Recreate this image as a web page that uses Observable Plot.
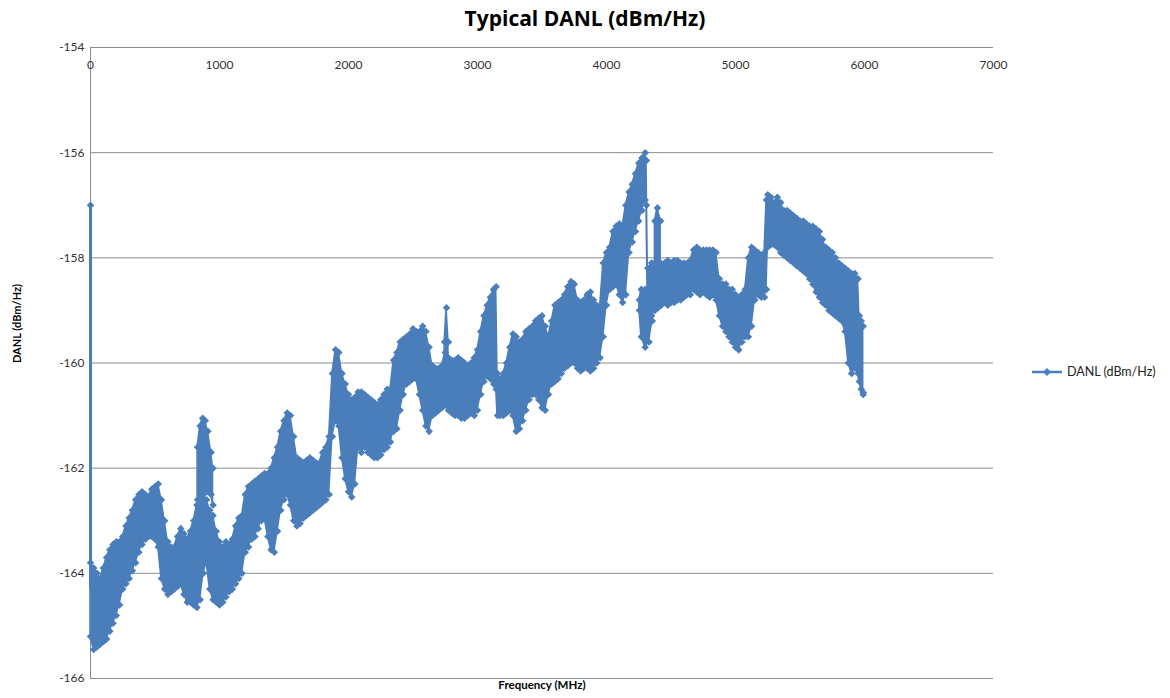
<!DOCTYPE html>
<html><head><meta charset="utf-8">
<script src="https://cdn.jsdelivr.net/npm/d3@7"></script>
<script src="https://cdn.jsdelivr.net/npm/@observablehq/plot@0.6"></script>
<style>
body{margin:0;background:#fff;font-family:Lato,"Open Sans",sans-serif;}
#wrap{position:relative;width:1170px;height:698px;overflow:hidden;}
#title{position:absolute;left:0;top:4px;width:1170px;text-align:center;font-family:"Open Sans",Lato,sans-serif;font-weight:bold;font-size:21px;color:#000;}
#chart{position:absolute;left:0;top:38px;}
#legend{position:absolute;left:1030px;top:364px;font-size:12.5px;color:#222;display:flex;align-items:center;white-space:nowrap;}
</style></head>
<body>
<div id="wrap">
  <div id="title">Typical DANL (dBm/Hz)</div>
  <div id="chart"></div>
  <div id="legend"><svg width="34" height="14"><line x1="2" y1="7" x2="32" y2="7" stroke="#4a7ebb" stroke-width="2.5"/><path d="M17 3 L21 7 L17 11 L13 7 Z" fill="#4a7ebb"/></svg><span style="margin-left:3px">DANL (dBm/Hz)</span></div>
</div>
<script>
// Frequency (MHz) and upper / lower edge of the dense DANL trace (dBm/Hz)
const freq = [
  0,25,50,75,100,125,150,175,
  200,225,250,275,300,325,350,375,
  400,425,450,475,500,525,550,575,
  600,625,650,675,700,725,750,775,
  800,825,850,875,900,925,950,975,
  1000,1025,1050,1075,1100,1125,1150,1175,
  1200,1225,1250,1275,1300,1325,1350,1375,
  1400,1425,1450,1475,1500,1525,1550,1575,
  1600,1625,1650,1675,1700,1725,1750,1775,
  1800,1825,1850,1875,1900,1925,1950,1975,
  2000,2025,2050,2075,2100,2125,2150,2175,
  2200,2225,2250,2275,2300,2325,2350,2375,
  2400,2425,2450,2475,2500,2525,2550,2575,
  2600,2625,2650,2675,2700,2725,2750,2775,
  2800,2825,2850,2875,2900,2925,2950,2975,
  3000,3025,3050,3075,3100,3125,3145,3155,
  3175,3200,3225,3250,3275,3300,3325,3350,
  3375,3400,3425,3450,3475,3500,3525,3550,
  3575,3600,3625,3650,3675,3700,3725,3750,
  3775,3800,3825,3850,3875,3900,3925,3950,
  3975,4000,4025,4050,4075,4100,4125,4150,
  4175,4200,4225,4250,4275,4300,4310,4320,
  4350,4375,4400,4425,4450,4475,4500,4525,
  4550,4575,4600,4625,4650,4675,4700,4725,
  4750,4775,4800,4825,4850,4875,4900,4925,
  4950,4975,5000,5025,5050,5075,5100,5125,
  5150,5175,5200,5225,5240,5250,5275,5300,
  5325,5350,5375,5400,5425,5450,5475,5500,
  5525,5550,5575,5600,5625,5650,5675,5700,
  5725,5750,5775,5800,5825,5850,5875,5900,
  5925,5950,5960,5975,5990
];
const danlHigh = [
  -163.8,-163.9,-164.0,-164.1,-163.9,-163.7,-163.55,-163.45,
  -163.4,-163.4,-163.3,-163.1,-162.95,-162.8,-162.6,-162.5,
  -162.45,-162.5,-162.55,-162.4,-162.35,-162.3,-162.6,-163.0,
  -163.4,-163.5,-163.5,-163.3,-163.15,-163.25,-163.35,-163.2,
  -163.0,-162.7,-162.6,-162.5,-162.6,-162.8,-162.9,-163.2,
  -163.4,-163.5,-163.4,-163.45,-163.35,-163.1,-162.95,-162.9,
  -162.5,-162.35,-162.3,-162.25,-162.2,-162.15,-162.1,-162.1,
  -162.0,-161.8,-161.6,-161.3,-161.1,-160.95,-161.0,-161.4,
  -161.8,-161.85,-161.9,-161.85,-161.8,-161.85,-161.9,-161.9,
  -161.7,-161.6,-161.4,-160.2,-159.75,-159.8,-160.2,-160.4,
  -160.6,-160.7,-160.65,-160.55,-160.55,-160.6,-160.65,-160.7,
  -160.75,-160.8,-160.7,-160.6,-160.5,-160.5,-159.95,-159.8,
  -159.6,-159.55,-159.5,-159.45,-159.35,-159.4,-159.4,-159.3,
  -159.4,-159.7,-160.05,-160.1,-160.1,-160.05,-159.8,-159.9,
  -159.95,-159.95,-159.9,-159.95,-160.0,-160.05,-160.0,-159.9,
  -159.75,-159.4,-159.1,-158.9,-158.75,-158.6,-158.55,-160.2,
  -160.3,-160.2,-160.0,-159.7,-159.45,-159.5,-159.6,-159.55,
  -159.4,-159.35,-159.3,-159.2,-159.15,-159.1,-159.3,-159.5,
  -159.2,-158.9,-158.85,-158.8,-158.7,-158.55,-158.45,-158.5,
  -158.8,-158.85,-158.8,-158.7,-158.65,-158.8,-158.9,-158.95,
  -158.1,-157.9,-157.8,-157.5,-157.4,-157.35,-157.4,-157.0,
  -156.75,-156.6,-156.4,-156.2,-156.1,-156.0,-156.15,-158.2,
  -158.1,-158.2,-158.2,-158.15,-158.1,-158.05,-158.1,-158.05,
  -158.05,-158.1,-158.1,-158.1,-158.05,-157.85,-157.8,-157.85,
  -157.85,-157.85,-157.85,-157.85,-157.9,-158.4,-158.5,-158.5,
  -158.6,-158.6,-158.7,-158.75,-158.7,-158.6,-158.0,-157.8,
  -157.85,-157.9,-157.95,-157.9,-156.9,-156.8,-156.85,-156.95,
  -156.85,-156.95,-157.1,-157.1,-157.15,-157.2,-157.25,-157.3,
  -157.3,-157.35,-157.4,-157.4,-157.45,-157.5,-157.65,-157.8,
  -157.85,-157.9,-158.0,-158.1,-158.15,-158.2,-158.25,-158.3,
  -158.3,-158.4,-159.1,-159.2,-159.3
];
const danlLow = [
  -165.2,-165.45,-165.4,-165.35,-165.3,-165.25,-165.1,-164.95,
  -164.8,-164.6,-164.3,-164.2,-164.1,-163.95,-163.8,-163.6,
  -163.45,-163.35,-163.3,-163.3,-163.35,-163.5,-164.1,-164.3,
  -164.4,-164.35,-164.3,-164.25,-164.2,-164.4,-164.55,-164.55,
  -164.6,-164.65,-164.5,-164.0,-163.8,-164.3,-164.5,-164.55,
  -164.6,-164.55,-164.45,-164.35,-164.3,-164.2,-164.1,-164.0,
  -163.6,-163.5,-163.35,-163.3,-163.15,-163.0,-162.95,-163.3,
  -163.55,-163.6,-163.2,-162.8,-162.6,-162.5,-162.7,-163.0,
  -163.1,-163.05,-162.95,-162.9,-162.85,-162.8,-162.75,-162.7,
  -162.65,-162.6,-162.5,-161.4,-161.1,-161.2,-161.8,-162.2,
  -162.45,-162.55,-162.3,-161.6,-161.7,-161.6,-161.7,-161.75,
  -161.8,-161.8,-161.75,-161.65,-161.6,-161.5,-161.3,-161.25,
  -160.9,-160.6,-160.4,-160.35,-160.3,-160.3,-160.6,-160.9,
  -161.2,-161.3,-161.0,-160.95,-160.9,-160.85,-160.8,-160.9,
  -160.95,-161.0,-161.0,-161.05,-161.05,-161.0,-160.95,-161.0,
  -160.9,-160.6,-160.35,-160.25,-160.3,-160.4,-160.5,-161.0,
  -161.0,-161.0,-160.95,-160.9,-161.0,-161.3,-161.25,-161.1,
  -160.9,-160.7,-160.6,-160.6,-160.7,-160.85,-160.9,-160.6,
  -160.4,-160.35,-160.3,-160.2,-160.1,-160.05,-160.0,-160.0,
  -160.1,-160.15,-160.1,-160.1,-160.15,-160.1,-160.0,-159.9,
  -159.5,-158.9,-158.6,-158.55,-158.5,-158.7,-158.85,-158.7,
  -157.9,-157.7,-157.5,-157.3,-157.1,-156.9,-157.0,-159.1,
  -159.1,-159.0,-158.95,-158.9,-158.85,-158.9,-158.85,-158.85,
  -158.8,-158.8,-158.75,-158.7,-158.7,-158.6,-158.65,-158.7,
  -158.65,-158.7,-158.75,-158.7,-158.8,-159.1,-159.3,-159.4,
  -159.5,-159.6,-159.7,-159.75,-159.6,-159.5,-159.5,-159.3,
  -158.8,-158.7,-158.75,-158.75,-158.6,-157.8,-157.75,-157.75,
  -157.8,-157.9,-157.95,-158.0,-158.05,-158.1,-158.15,-158.2,
  -158.25,-158.3,-158.4,-158.5,-158.65,-158.75,-158.85,-158.9,
  -159.0,-159.05,-159.1,-159.15,-159.2,-159.4,-160.0,-160.2,
  -160.1,-160.2,-160.35,-160.5,-160.6
];
// Overlapping lobes of the trace (tower at ~870 MHz, blobs near 2760, 4300, 4395 MHz)
const lobeId   = ["t","t","t","t","t","t","t", "c","c","c", "a","a","a","a","a", "b","b","b"];
const lobeFreq = [830,850,870,890,910,935,950, 2745,2760,2775, 4255,4270,4300,4330,4355, 4375,4395,4420];
const lobeHigh = [-161.6,-161.2,-161.05,-161.1,-161.3,-161.7,-162.0, -159.6,-158.95,-159.6, -158.8,-158.6,-158.6,-158.7,-158.9, -157.3,-157.05,-157.3];
const lobeLow  = [-162.6,-162.5,-162.4,-162.4,-162.45,-162.5,-162.7, -160.3,-160.3,-160.3, -159.0,-159.5,-159.7,-159.6,-159.2, -158.1,-158.2,-158.1];
// First sample spike at 0 MHz
const spikeFreq = [0];
const spikeTop = [-157.0];
const spikeBottom = [-164.3];
const lastFreq = [5990];
const lastValue = [-160.56];

const xTicks = [0,1000,2000,3000,4000,5000,6000,7000];
const yTicks = [-166,-164,-162,-160,-158,-156,-154];

const blue = "#4a7ebb";
const band = freq.map((f, i) => ({f, hi: danlHigh[i], lo: danlLow[i]}));
const lobes = lobeId.map((id, i) => ({id, f: lobeFreq[i], hi: lobeHigh[i], lo: lobeLow[i]}));
const spikes = spikeFreq.map((f, i) => ({f, top: spikeTop[i], bottom: spikeBottom[i]}));
const last = lastFreq.map((f, i) => ({f, v: lastValue[i]}));

const chart = Plot.plot({
  width: 1170, height: 660,
  marginLeft: 90, marginRight: 177, marginTop: 9, marginBottom: 20,
  x: {domain: [0, 7000]},
  y: {domain: [-166, -154]},
  style: {fontFamily: "Lato, 'Open Sans', sans-serif", fontSize: "12px", color: "#333", background: "transparent", overflow: "visible"},
  marks: [
    Plot.gridY(yTicks, {stroke: "#8c8c8c", strokeOpacity: 1, strokeWidth: 1}),
    Plot.ruleX([0], {stroke: "#8c8c8c", strokeWidth: 1}),
    Plot.axisY(yTicks, {tickSize: 0, tickPadding: 6, tickFormat: d => String(d), label: null}),
    Plot.axisX(xTicks, {anchor: "top", tickSize: 0, tickPadding: 0, lineAnchor: "middle", dy: 18, tickFormat: d => String(d), label: null}),
    Plot.areaY(band, {x: "f", y1: "lo", y2: "hi", fill: blue, stroke: blue, strokeWidth: 1.5}),
    Plot.areaY(lobes, {x: "f", y1: "lo", y2: "hi", z: "id", fill: blue, stroke: blue, strokeWidth: 1.5}),
    Plot.dot(band, {x: "f", y: "hi", symbol: "diamond2", r: 3.4, fill: blue}),
    Plot.dot(band, {x: "f", y: "lo", symbol: "diamond2", r: 3.4, fill: blue}),
    Plot.dot(lobes, {x: "f", y: "hi", symbol: "diamond2", r: 3.4, fill: blue}),
    Plot.dot(lobes, {x: "f", y: "lo", symbol: "diamond2", r: 3.4, fill: blue}),
    Plot.ruleX(spikes, {x: "f", y1: "bottom", y2: "top", stroke: blue, strokeWidth: 3}),
    Plot.dot(spikes, {x: "f", y: "top", symbol: "diamond2", r: 3.4, fill: blue}),
    Plot.dot(last, {x: "f", y: "v", symbol: "diamond2", r: 3.4, fill: blue}),
    Plot.text(["DANL (dBm/Hz)"], {frameAnchor: "left", rotate: -90, dx: -73, fontWeight: "bold", fontSize: 11, fill: "#000"}),
    Plot.text(["Frequency (MHz)"], {frameAnchor: "bottom", dy: 10, fontWeight: "bold", fontSize: 11.5, fill: "#000"})
  ]
});
document.getElementById("chart").appendChild(chart);
</script>
</body></html>
